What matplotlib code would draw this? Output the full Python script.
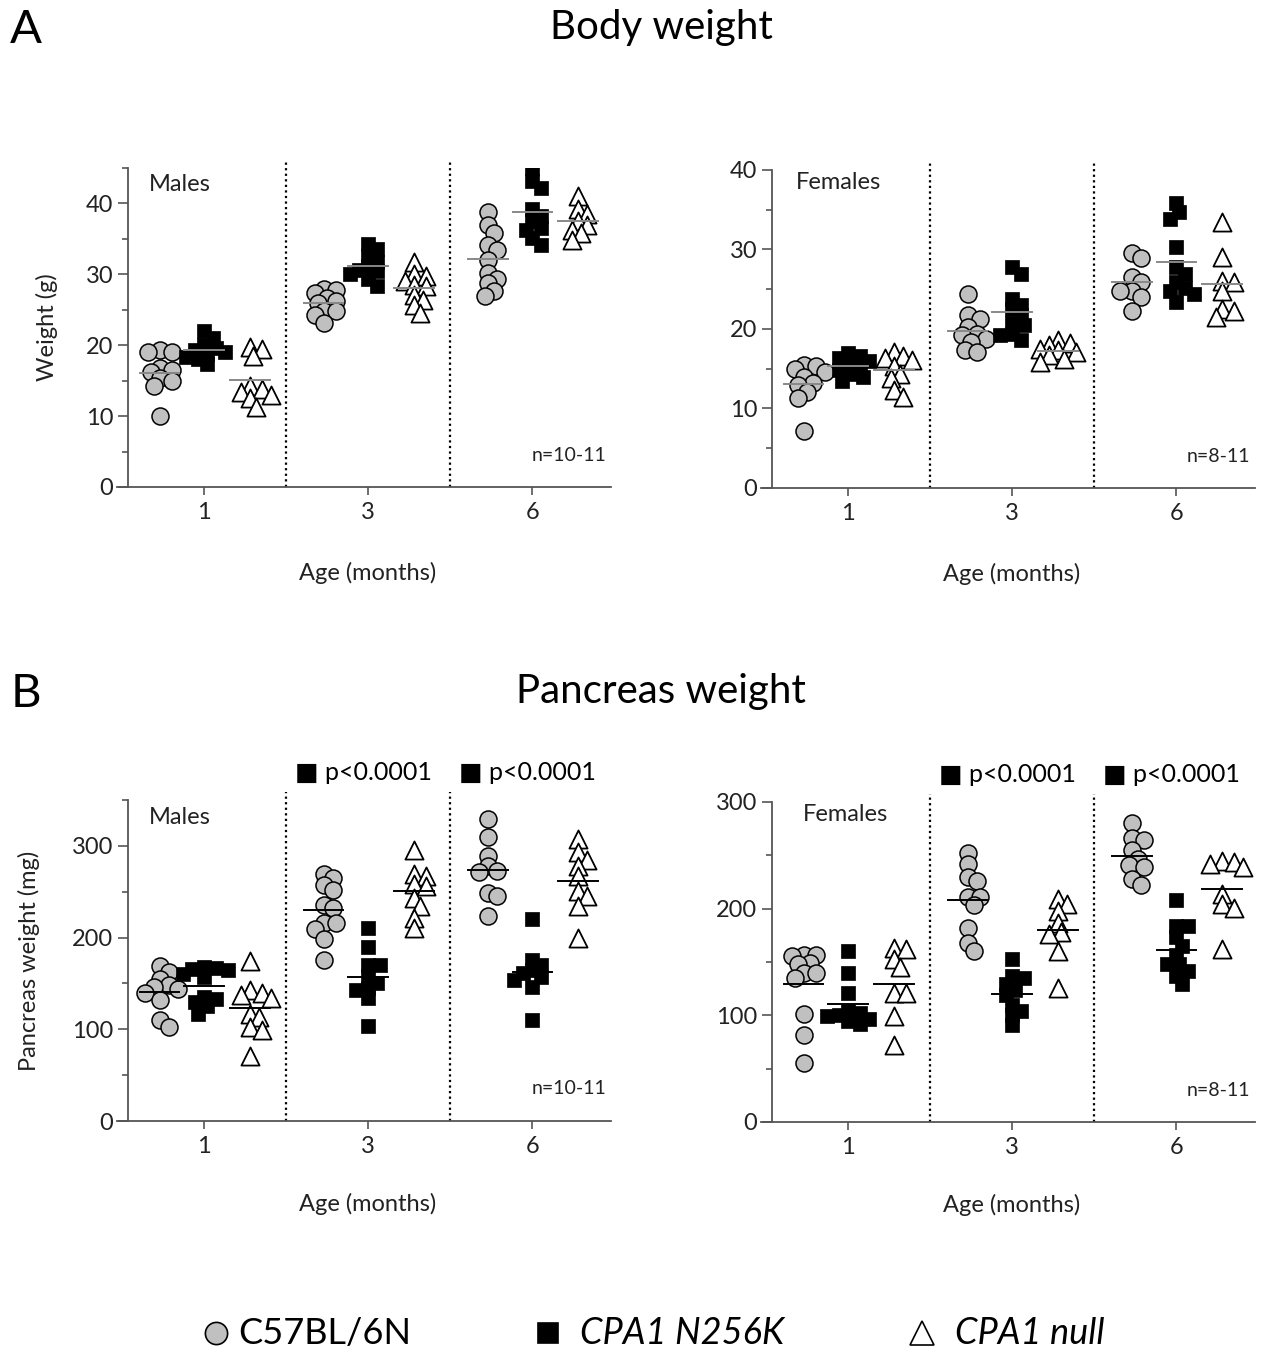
import numpy as np
import matplotlib
matplotlib.use("Agg")
import matplotlib.pyplot as plt
from matplotlib.lines import Line2D
from matplotlib.ticker import MultipleLocator
from matplotlib.transforms import blended_transform_factory

plt.rcParams['font.family'] = ['Lato', 'DejaVu Sans']

OUTPUT = "out.png"

AGES = ["1", "3", "6"]
GENOTYPES = ["C57BL/6N", "CPA1 N256K", "CPA1 null"]

# =========================
# DATA, one list per age: 1, 3, 6 months
# =========================
# body weight (g), males
bw_m_wt = [[19.3, 19.1, 19.0, 16.8, 16.5, 16.2, 15.4, 15.0, 14.2, 10.0],
           [28.0, 27.8, 27.4, 26.7, 26.2, 25.9, 24.8, 24.8, 24.3, 23.1],
           [38.8, 36.9, 35.8, 34.2, 33.5, 32.0, 30.2, 29.4, 28.8, 27.6, 27.0]]
bw_m_ki = [[22.0, 21.0, 20.0, 19.6, 19.3, 19.0, 18.7, 18.4, 18.0, 17.3],
           [34.3, 33.6, 32.6, 31.8, 31.2, 30.6, 30.4, 30.0, 29.3, 28.3],
           [45.0, 43.2, 42.2, 39.2, 38.2, 37.5, 36.6, 36.3, 35.1, 34.2]]
bw_m_ko = [[19.8, 19.5, 18.5, 14.2, 13.8, 13.4, 13.0, 12.5, 11.3],
           [31.8, 30.0, 29.7, 29.0, 28.5, 28.3, 27.1, 26.4, 25.7, 24.5],
           [41.0, 39.2, 38.5, 37.5, 37.0, 36.3, 35.8, 34.9]]

# body weight (g), females
bw_f_wt = [[15.5, 15.4, 15.0, 14.6, 14.0, 13.2, 12.9, 12.1, 11.3, 7.2],
           [24.4, 21.7, 21.3, 20.3, 19.4, 19.2, 18.8, 18.4, 17.3, 17.1],
           [29.6, 28.9, 26.5, 25.9, 24.8, 24.8, 24.0, 22.3]]
bw_f_ki = [[17.0, 16.6, 16.3, 16.0, 15.6, 15.2, 14.8, 14.4, 14.0, 13.5],
           [27.8, 26.9, 23.8, 23.0, 22.5, 21.7, 20.7, 20.5, 19.4, 19.3, 18.6],
           [35.9, 34.7, 33.8, 30.3, 27.8, 26.9, 25.9, 25.1, 24.8, 24.4, 23.4]]
bw_f_ko = [[17.1, 16.6, 16.3, 16.1, 15.4, 14.4, 13.8, 12.3, 11.5],
           [18.6, 18.2, 18.0, 17.5, 17.3, 17.1, 16.7, 16.2, 15.9],
           [33.4, 29.0, 26.1, 25.9, 24.8, 22.5, 22.3, 21.5]]

# pancreas weight (mg), males
pw_m_wt = [[169, 163, 155, 148, 146, 144, 140, 132, 110, 103],
           [269, 265, 257, 252, 236, 232, 216, 216, 209, 198, 176],
           [329, 310, 289, 278, 273, 271, 249, 245, 223]]
pw_m_ki = [[168, 167, 166, 165, 160, 157, 135, 133, 130, 125, 117],
           [210, 190, 170, 170, 158, 150, 145, 143, 134, 104],
           [220, 176, 170, 165, 161, 157, 154, 146, 110]]
pw_m_ko = [[174, 143, 140, 137, 134, 117, 113, 102, 99, 71],
           [295, 269, 267, 258, 256, 243, 234, 221, 210],
           [307, 293, 285, 278, 267, 251, 245, 234, 199]]

# pancreas weight (mg), females
pw_f_wt = [[157, 157, 156, 149, 148, 140, 140, 135, 101, 82, 55],
           [252, 242, 230, 226, 211, 211, 203, 182, 168, 160],
           [280, 266, 264, 255, 247, 241, 239, 228, 222]]
pw_f_ki = [[160, 140, 121, 104, 102, 100, 99, 97, 95, 92],
           [153, 137, 135, 129, 124, 119, 110, 104, 100, 91],
           [208, 184, 184, 173, 165, 157, 148, 148, 142, 137, 129]]
pw_f_ko = [[163, 162, 153, 145, 121, 121, 99, 72],
           [209, 204, 198, 187, 178, 176, 160, 126],
           [245, 244, 242, 239, 214, 204, 201, 162]]

# =========================
# STYLE
# =========================
W, H, DPI = 1272, 1353, 100
XPX = 164.0                       # pixels per age group
XLIM = (0.47, 3.48)
YSPINE = 0.54
OFFSETS = [-0.27, 0.0, 0.28]
STYLES = [dict(marker="o", s=150, facecolor="#c0c0c0", edgecolor="black", linewidths=1.1),
          dict(marker="s", s=110, facecolor="black", edgecolor="black", linewidths=0.5),
          dict(marker="^", s=170, facecolor="white", edgecolor="black", linewidths=1.3)]
AXCOL = "#555555"
FS = 17


def swarm(vals, center, ypx, d=16.0, max_off=24.0):
    """compact beeswarm in pixel space -> x positions in data units"""
    placed, xs = [], []
    steps = [0.0]
    for i in range(1, int(max_off / 3) + 1):
        steps += [3.0 * i, -3.0 * i]
    thresh = 0.6 * d
    for v in vals:
        y = v * ypx
        best, best_gap = 0.0, -1.0
        for x in steps:
            gap = min([np.hypot(x - px, y - py) for px, py in placed] or [99.0])
            if gap >= thresh:
                best = x
                break
            if gap > best_gap:
                best, best_gap = x, gap
        placed.append((best, y))
        xs.append(center + best / XPX)
    return xs


def panel(rect, groups, ylim, major, minor, label, label_pos, ylabel, mean_col, ntext):
    ax = fig.add_axes(rect)
    ypx = rect[3] * H / (ylim[1] - ylim[0])

    ax.set_xlim(*XLIM)
    ax.set_ylim(*ylim)
    for side in ("top", "right"):
        ax.spines[side].set_visible(False)
    ax.spines["left"].set_position(("data", YSPINE))
    for side in ("left", "bottom"):
        ax.spines[side].set_color(AXCOL)
        ax.spines[side].set_linewidth(1.3)

    ax.yaxis.set_major_locator(MultipleLocator(major))
    ax.yaxis.set_minor_locator(MultipleLocator(minor))
    ax.set_xticks([1, 2, 3])
    ax.set_xticklabels(AGES)
    ax.tick_params(axis="y", which="major", length=7, width=1.2, color=AXCOL,
                   labelsize=FS, pad=4, labelcolor="#222222")
    ax.tick_params(axis="y", which="minor", length=4, width=1.2, color=AXCOL)
    ax.tick_params(axis="x", length=6, width=1.2, color=AXCOL, labelsize=FS, pad=5,
                   labelcolor="#222222")

    # dotted separators between age groups
    tr = blended_transform_factory(ax.transData, ax.transAxes)
    for xd in (1.5, 2.5):
        ax.plot([xd, xd], [0, 1.025], transform=tr, color="black", ls=(0, (1, 1.5)),
                lw=1.6, clip_on=False, zorder=1)

    for gi, vals_by_age in enumerate(groups):
        for ai, vals in enumerate(vals_by_age):
            c = ai + 1 + OFFSETS[gi]
            xs = swarm(vals, c, ypx)
            ax.scatter(xs, vals, zorder=3, **STYLES[gi])
            m = np.mean(vals)
            ax.plot([c - 0.12, c + 0.12], [m, m], color=mean_col, lw=1.4, zorder=4)

    ax.text(label_pos[0], label_pos[1], label, transform=ax.transAxes,
            fontsize=FS, va="center", ha="left", color="#222222")
    ax.text(0.99, 0.1, ntext, transform=ax.transAxes, fontsize=14, ha="right", va="center",
            color="#222222")

    ax.set_xlabel("Age (months)", fontsize=FS, color="#222222")
    if ylabel:
        ax.set_ylabel(ylabel, fontsize=FS, color="#222222")
    return ax


fig = plt.figure(figsize=(W / DPI, H / DPI), dpi=DPI)


def frac(x0, x1, ytop, ybot):
    return [x0 / W, 1 - ybot / H, (x1 - x0) / W, (ybot - ytop) / H]


ax1 = panel(frac(117, 611, 168, 487), [bw_m_wt, bw_m_ki, bw_m_ko], (0, 45), 10, 5,
            "Males", (0.065, 0.947), "Weight (g)", "#888888", "n=10-11")
ax1.yaxis.set_label_coords(-0.12, 0.5)
ax1.xaxis.set_label_coords(0.508, -0.235)
ax2 = panel(frac(761, 1255, 170, 488), [bw_f_wt, bw_f_ki, bw_f_ko], (0, 40), 10, 5,
            "Females", (0.07, 0.96), None, "#888888", "n=8-11")
ax2.xaxis.set_label_coords(0.508, -0.235)
ax3 = panel(frac(117, 611, 800, 1121), [pw_m_wt, pw_m_ki, pw_m_ko], (0, 350), 100, 50,
            "Males", (0.065, 0.944), "Pancreas weight (mg)", "black", "n=10-11")
ax3.yaxis.set_label_coords(-0.155, 0.5)
ax3.xaxis.set_label_coords(0.508, -0.225)
ax4 = panel(frac(761, 1255, 802, 1122), [pw_f_wt, pw_f_ki, pw_f_ko], (0, 300), 100, 50,
            "Females", (0.085, 0.96), None, "black", "n=8-11")
ax4.xaxis.set_label_coords(0.508, -0.225)

# p-value annotations above pancreas panels
for ax in (ax3, ax4):
    tr = blended_transform_factory(ax.transData, ax.transAxes)
    for xd in (2, 3):
        ax.text(xd - 0.03, 1.085, "\u25A0 p<0.0001", transform=tr, fontsize=18,
                ha="center", va="center")

# titles and panel letters
fig.text(26 / W, 1 - 30 / H, "A", fontsize=34, ha="center", va="center")
fig.text(661 / W, 1 - 28 / H, "Body weight", fontsize=29, ha="center", va="center")
fig.text(26 / W, 1 - 694 / H, "B", fontsize=34, ha="center", va="center")
fig.text(661 / W, 1 - 692 / H, "Pancreas weight", fontsize=29, ha="center", va="center")

# legend, laid out by hand along the bottom
leg_y = 1 - 1333 / H
leg_x = [(216, 238), (548, 580), (922, 955)]
leg_ms = [16, 15, 17]
for (mx, tx), st, ms, name in zip(leg_x, STYLES, leg_ms, GENOTYPES):
    fig.add_artist(Line2D([mx / W], [leg_y], marker=st["marker"], ls="none", markersize=ms,
                          markerfacecolor=st["facecolor"], markeredgecolor="black",
                          markeredgewidth=1.2, transform=fig.transFigure))
    fig.text(tx / W, leg_y, name, fontsize=26, ha="left", va="center",
             style="normal" if name == GENOTYPES[0] else "italic")

fig.savefig(OUTPUT, dpi=DPI)
